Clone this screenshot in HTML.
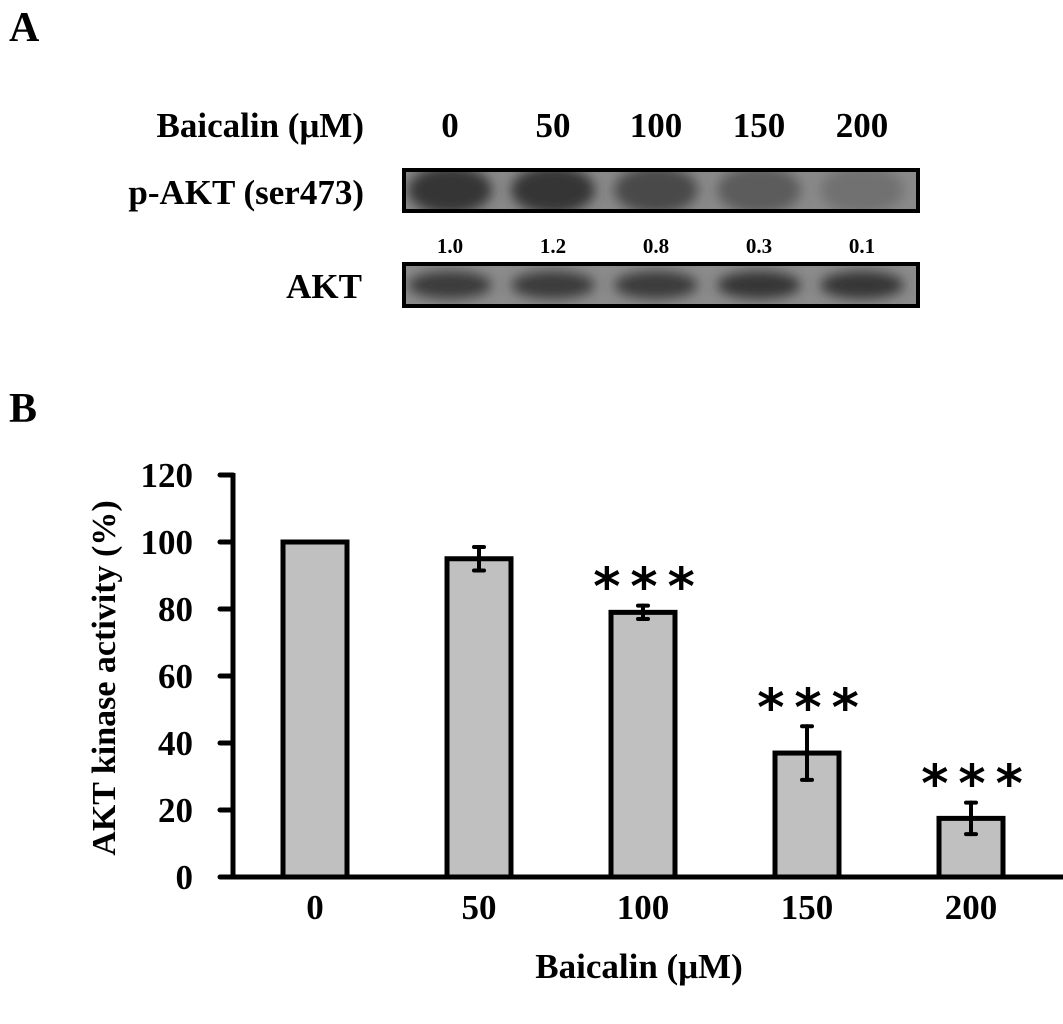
<!DOCTYPE html>
<html><head><meta charset="utf-8"><style>
body{margin:0;background:#fff;}
svg{display:block;}
text{font-family:"Liberation Serif",serif;font-weight:bold;fill:#000;}
</style></head><body>
<svg width="1063" height="1024" viewBox="0 0 1063 1024">
<defs>
<filter id="blur" x="-30%" y="-50%" width="160%" height="200%"><feGaussianBlur stdDeviation="6"/></filter>
<clipPath id="c1"><rect x="404" y="170" width="514" height="41"/></clipPath>
<clipPath id="c2"><rect x="404" y="264" width="514" height="42"/></clipPath>
</defs>
<text x="9" y="41" font-size="42">A</text>
<text x="9" y="422" font-size="42">B</text>

<text x="364" y="137" text-anchor="end" font-size="35">Baicalin (μM)</text>
<g id="blotcols" font-size="35"></g>
<text x="364" y="204" text-anchor="end" font-size="35">p-AKT (ser473)</text>
<text x="362" y="298" text-anchor="end" font-size="35">AKT</text>

<g>
<rect x="404" y="170" width="514" height="41" fill="#8a8a8a"/>
<g id="pbands" clip-path="url(#c1)"></g>
<rect x="404" y="170" width="514" height="41" fill="none" stroke="#000" stroke-width="4"/>
</g>
<g id="quant" font-size="21"></g>
<g>
<rect x="404" y="264" width="514" height="42" fill="#8c8c8c"/>
<g id="abands" clip-path="url(#c2)"></g>
<rect x="404" y="264" width="514" height="42" fill="none" stroke="#000" stroke-width="4"/>
</g>

<g id="chart"></g>
<text transform="translate(115,678) rotate(-90)" text-anchor="middle" font-size="34">AKT kinase activity (%)</text>
<text x="639" y="978" text-anchor="middle" font-size="35">Baicalin (μM)</text>
</svg>
<script>
const categories = ["0","50","100","150","200"];
const activity = [100, 95, 79, 37, 17.5];
const errors = [0, 3.5, 2, 8, 4.7];
const significance = ["", "", "***", "***", "***"];
const yTicks = [0, 20, 40, 60, 80, 100, 120];
const pAktRatio = ["1.0","1.2","0.8","0.3","0.1"];
const pAktIntensity = [0.8, 0.8, 0.6, 0.45, 0.25];
const aktIntensity = [0.75, 0.75, 0.75, 0.78, 0.8];

const NS = "http://www.w3.org/2000/svg";
function mk(tag, attrs, parent){const e=document.createElementNS(NS,tag);for(const k in attrs)e.setAttribute(k,attrs[k]);parent.appendChild(e);return e;}
const chart = document.getElementById("chart");
const y0 = 877, yPerUnit = 3.35;
const yScale = v => y0 - v*yPerUnit;
const xScale = i => 315 + i*164;
const barW = 64;

const laneX = i => 450 + i*103;
const colG = document.getElementById("blotcols");
categories.forEach((c,i)=>{
  const t=mk("text",{x:laneX(i),y:137,"text-anchor":"middle"},colG);
  
  
  t.textContent=c;
});
const pb=document.getElementById("pbands");
pAktIntensity.forEach((v,i)=>{
  const g=Math.round(140-110*v);
  const e=mk("ellipse",{cx:laneX(i),cy:190,rx:42,ry:24,fill:`rgb(${g},${g},${g})`,filter:"url(#blur)"},pb);
  
  
});
const ab=document.getElementById("abands");
aktIntensity.forEach((v,i)=>{
  const g=Math.round(140-110*v);
  const e=mk("ellipse",{cx:laneX(i),cy:285,rx:42,ry:14,fill:`rgb(${g},${g},${g})`,filter:"url(#blur)"},ab);
  
  
});
const q=document.getElementById("quant");
pAktRatio.forEach((r,i)=>{
  const t=mk("text",{x:laneX(i),y:253,"text-anchor":"middle"},q);
  
  
  t.textContent=r;
});

const yAxis=mk("line",{x1:233,y1:yScale(120)-2,x2:233,y2:y0+2,stroke:"#000","stroke-width":5},chart);


yTicks.forEach(v=>{
  const l=mk("line",{x1:220,y1:yScale(v),x2:233,y2:yScale(v),stroke:"#000","stroke-width":5,"stroke-linecap":"round"},chart);
  
  
  const t=mk("text",{x:193,y:yScale(v)+12,"text-anchor":"end","font-size":35},chart);
  
  
  t.textContent=v;
});
categories.forEach((c,i)=>{
  const x=xScale(i), top=yScale(activity[i]);
  const r=mk("rect",{x:x-barW/2,y:top,width:barW,height:y0-top,fill:"#c0c0c0",stroke:"#000","stroke-width":5},chart);
  
  
  if(errors[i]>0){
    const eg=mk("g",{stroke:"#000","stroke-width":4,"stroke-linecap":"round"},chart);
    
    
    const a=yScale(activity[i]+errors[i]), b=yScale(activity[i]-errors[i]);
    mk("line",{x1:x,y1:a,x2:x,y2:b},eg);
    mk("line",{x1:x-5,y1:a,x2:x+5,y2:a},eg);
    mk("line",{x1:x-5,y1:b,x2:x+5,y2:b},eg);
  }
  if(significance[i]){
    const cy=yScale(activity[i]+errors[i])-28;
    const t=mk("text",{x:x+6,y:cy+27,"text-anchor":"middle","font-size":52,"letter-spacing":"10",style:"font-family:'DejaVu Sans',sans-serif"},chart);
    
    
    t.textContent=significance[i];
  }
  const t=mk("text",{x:x,y:919,"text-anchor":"middle","font-size":35},chart);
  
  
  t.textContent=c;
});
const xAxis=mk("line",{x1:220,y1:y0,x2:1063,y2:y0,stroke:"#000","stroke-width":5},chart);


</script>
</body></html>
